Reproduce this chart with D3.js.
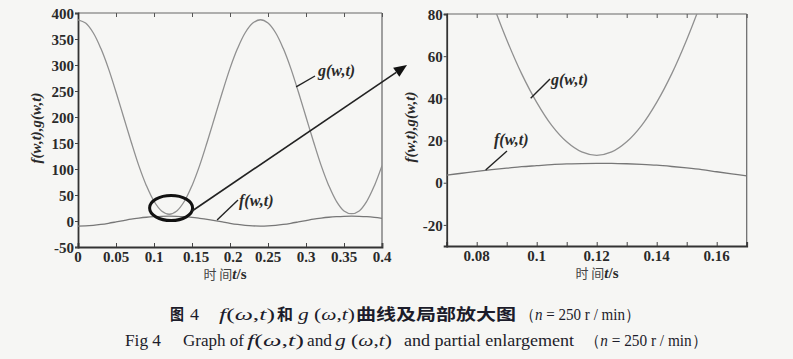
<!DOCTYPE html>
<html><head><meta charset="utf-8">
<script src="https://cdn.jsdelivr.net/npm/d3@7"></script>
<style>
html,body{margin:0;padding:0;background:#f6f6f4;}
svg{display:block;}
</style></head><body>
<svg id="c" width="793" height="359"></svg>
<script>
// ---- data ----
const tFull = d3.range(0, 41).map(i => +(i * 0.01).toFixed(2));
const gFull = [387,380.6,362,332,293.5,248,200,152,106.5,68,38,19.4,13,19.4,38,68,106.5,152,200,248,293.5,332,362,380.6,387,380.6,362,332,293.5,248,200,152,106.5,68,38,19.4,14,19.4,38,68,106.5];
const fFull = [-9.8,-9.4,-8.3,-6.6,-4.4,-1.8,0.9,3.6,5.6,7.2,8.3,9.0,9.2,9.0,8.3,7.0,5.2,3.2,0.8,-1.8,-4.4,-6.6,-8.3,-9.4,-9.8,-9.4,-8.3,-6.6,-4.4,-1.8,0.9,3.6,5.6,7.2,8.3,9.0,9.2,9.0,8.3,7.0,5.2];
const tZoom = d3.range(0, 21).map(i => +(0.07 + i * 0.005).toFixed(3));
const gZoom = [151.6,128.4,106.5,86.2,67.8,51.6,38.1,27.2,19.4,14.6,13,14.6,19.4,27.2,38.1,51.6,67.8,86.2,106.5,128.4,151.6];
const fZoom = [3.6,4.5,5.4,6.2,6.9,7.6,8.1,8.6,8.9,9.1,9.2,9.2,9.0,8.7,8.3,7.7,7.0,6.2,5.2,4.2,3.2];
const xTicksFull = [0,0.05,0.1,0.15,0.2,0.25,0.3,0.35,0.4];
const yTicksFull = [-50,0,50,100,150,200,250,300,350,400];
const xTicksZoom = [0.08,0.1,0.12,0.14,0.16];
const xMinorZoom = [0.07,0.08,0.09,0.1,0.11,0.12,0.13,0.14,0.15,0.16,0.17];
const yTicksZoom = [-20,0,20,40,60,80];

const svg = d3.select('#c');
const serif = '"Liberation Serif","Times New Roman",serif';
const cjk = '"Noto Sans CJK SC","Noto Sans",sans-serif';
const ink = '#2a2a2a';
function boldSerif(sel, size){
  return sel.attr('font-family',serif).attr('font-size',size).attr('fill',ink).attr('font-weight','bold');
}

function panel(o){
  const g = svg.append('g');
  const x = d3.scaleLinear().domain(o.xd).range(o.xr);
  const y = d3.scaleLinear().domain(o.yd).range(o.yr);
  const id = 'clip' + o.name;
  svg.append('clipPath').attr('id', id).append('rect')
    .attr('x', o.xr[0]).attr('y', o.yr[1]).attr('width', o.xr[1]-o.xr[0]).attr('height', o.yr[0]-o.yr[1]);
  // frame
  g.append('line').attr('x1',o.xr[0]).attr('x2',o.xr[1]).attr('y1',o.yr[1]).attr('y2',o.yr[1]).attr('stroke','#666').attr('stroke-width',1.2);
  g.append('line').attr('x1',o.xr[1]).attr('x2',o.xr[1]).attr('y1',o.yr[1]).attr('y2',o.yr[0]).attr('stroke','#666').attr('stroke-width',1.2);
  // bottom axis (inward ticks)
  const xb = g.append('g').attr('transform',`translate(0,${o.yr[0]})`)
    .call(d3.axisBottom(x).tickValues(o.xminor).tickSize(-4).tickFormat(''));
  xb.select('.domain').attr('stroke','#333').attr('stroke-width',1.8);
  xb.selectAll('.tick line').attr('stroke','#444');
  const xt = g.append('g').attr('transform',`translate(0,${o.yr[1]})`)
    .call(d3.axisTop(x).tickValues(o.xminor).tickSize(-4).tickFormat(''));
  xt.select('.domain').remove();
  xt.selectAll('.tick line').attr('stroke','#555');
  // x labels
  boldSerif(g.selectAll('.xl').data(o.xticks).enter().append('text')
    .attr('x', d => x(d) + (o.xshift ? o.xshift(d) : 0)).attr('y', o.yr[0] + 15)
    .attr('text-anchor','middle'), 15).text(o.xfmt);
  // left axis
  const ya = g.append('g').attr('transform',`translate(${o.xr[0]},0)`)
    .call(d3.axisLeft(y).tickValues(o.yticks).tickSize(3).tickPadding(1).tickFormat(d => d));
  ya.select('.domain').attr('stroke','#333').attr('stroke-width',1.8);
  ya.selectAll('.tick line').attr('stroke','#444');
  boldSerif(ya.selectAll('.tick text'), 15).attr('dy','0.34em');
  // curves
  const line = d3.line().x(d => x(d[0])).y(d => y(d[1])).curve(d3.curveCatmullRom);
  const cg = g.append('g').attr('clip-path',`url(#${id})`);
  cg.append('path').datum(o.t.map((t,i)=>[t,o.g[i]])).attr('d',line)
    .attr('fill','none').attr('stroke','#909090').attr('stroke-width',1.3);
  cg.append('path').datum(o.t.map((t,i)=>[t,o.f[i]])).attr('d',line)
    .attr('fill','none').attr('stroke','#777').attr('stroke-width',1.3);
  // axis titles
  boldSerif(g.append('text').attr('transform',`translate(${o.ylabX},${(o.yr[0]+o.yr[1])/2 + o.ylabDy}) rotate(-90)`)
    .attr('text-anchor','middle').attr('font-style','italic'), 15).text('f(w,t),g(w,t)');
  const xl = g.append('text').attr('x', o.xlabX).attr('y', o.yr[0] + 32)
    .attr('text-anchor','middle').attr('fill','#333');
  xl.append('tspan').attr('font-family',cjk).attr('font-size',13).attr('fill','#444').text('时 间');
  boldSerif(xl.append('tspan').attr('font-style','italic'), 15).text('t');
  boldSerif(xl.append('tspan'), 15).text('/s');
  return {x, y, g};
}

const L = panel({name:'L', xd:[0,0.4], xr:[78,382], yd:[-50,400], yr:[247,13],
  t:tFull, g:gFull, f:fFull, xticks:xTicksFull, xminor:xTicksFull, yticks:yTicksFull,
  xfmt: d => d === 0 ? '0' : String(d), xshift: d => d===0.15 ? 4 : (d===0.2 ? 3 : 0),
  ylabX: 41, ylabDy: -2, xlabX: 225});
const R = panel({name:'R', xd:[0.07,0.17], xr:[446.7,746.7], yd:[-30,80], yr:[246,14],
  t:tZoom, g:gZoom, f:fZoom, xticks:xTicksZoom, xminor:xMinorZoom, yticks:yTicksZoom,
  xfmt: d => String(d), ylabX: 415, ylabDy: -3, xlabX: 597});

// annotations
function label(x1,y1,x2,y2,tx,ty,txt){
  svg.append('line').attr('x1',x1).attr('y1',y1).attr('x2',x2).attr('y2',y2).attr('stroke','#222').attr('stroke-width',1.4);
  boldSerif(svg.append('text').attr('x',tx).attr('y',ty).attr('font-style','italic'), 16).text(txt);
}
label(L.x(0.287), L.y(258), 315, 76, 318, 76, 'g(w,t)');
label(L.x(0.183), L.y(2), 238, 200, 239, 206, 'f(w,t)');
label(R.x(0.098), R.y(40), 550, 79, 551, 85, 'g(w,t)');
label(R.x(0.083), R.y(6), 507, 151, 494, 145, 'f(w,t)');

// ellipse + arrow
const ecx = L.x(0.1225), ecy = L.y(25);
svg.append('ellipse').attr('cx',ecx).attr('cy',ecy).attr('rx',21.5).attr('ry',12.5)
  .attr('fill','none').attr('stroke','#111').attr('stroke-width',3);
const ax1 = ecx + 21, ay1 = ecy + 3, ax2 = 407, ay2 = 65;
const ang = Math.atan2(ay2-ay1, ax2-ax1);
const hl = 13, hw = 5.5;
const bx = ax2 - hl*Math.cos(ang), by = ay2 - hl*Math.sin(ang);
svg.append('line').attr('x1',ax1).attr('y1',ay1).attr('x2',bx).attr('y2',by).attr('stroke','#222').attr('stroke-width',1.6);
svg.append('path').attr('d',`M${ax2},${ay2}L${bx - hw*Math.sin(ang)},${by + hw*Math.cos(ang)}L${bx + hw*Math.sin(ang)},${by - hw*Math.cos(ang)}Z`).attr('fill','#111');

// captions: segments [x, width, parts]; part = [text, kind]
function seg(y, x, w, parts, size){
  const t = svg.append('text').attr('x',x).attr('y',y).attr('fill','#1c1c2a').attr('font-size',size)
    .attr('textLength',w).attr('lengthAdjust','spacingAndGlyphs');
  parts.forEach(([s,k]) => {
    const sp = t.append('tspan').text(s);
    if (k === 'c') sp.attr('font-family',cjk).attr('font-weight','bold');
    else sp.attr('font-family',serif);
    if (k === 'i') sp.attr('font-style','italic');
  });
}
const y1 = 320, y2 = 346;
seg(y1,170,14,[['图','c']],16); seg(y1,190,9,[['4','r']],16);
seg(y1,219,56,[['f','i'],['(','r'],['ω','i'],[',','r'],['t','i'],[')','r']],17);
seg(y1,277,16,[['和','c']],16);
seg(y1,298,57,[['g','i'],[' (','r'],['ω','i'],[',','r'],['t','i'],[')','r']],17);
seg(y1,356,160,[['曲线及局部放大图','c']],16);
seg(y1,520,120,[['（','r'],['n','i'],[' = 250  r / min）','r']],16);

seg(y2,125,36,[['Fig 4','r']],16);
seg(y2,183,61,[['Graph of','r']],16);
seg(y2,247,57,[['f','i'],['(','r'],['ω','i'],[',','r'],['t','i'],[')','r']],17);
seg(y2,307,25,[['and','r']],16);
seg(y2,335,57,[['g','i'],[' (','r'],['ω','i'],[',','r'],['t','i'],[')','r']],17);
seg(y2,404,170,[['and partial enlargement','r']],16);
seg(y2,585,122,[['（','r'],['n','i'],[' = 250  r / min）','r']],16);
</script>
</body></html>
